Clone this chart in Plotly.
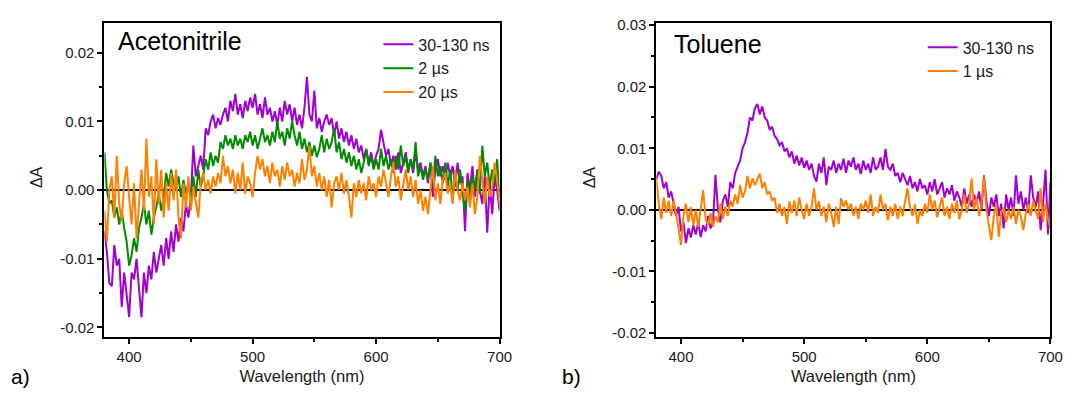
import numpy as np
import plotly.graph_objects as go

# ---------------- data (ΔA in units of 1e-3) ----------------
wavelength = np.arange(380, 701, 2)  # nm grid, 2 nm step

acn_30_130ns = [
    -6, -9, -13.5, -14, -8, -11, -10, -17, -12, -15,
    -18.5, -12, -13, -10, -14, -18.5, -12, -15, -11, -13,
    -9, -12, -10, -8, -11, -7, -10, -6, -9, -5,
    -7.5, -4, -6, -2, -4, -1, 6.5, 2, 3.5, 5,
    3, 9, 8, 10, 11, 9, 10.5, 9.5, 11, 12,
    10, 13, 11.5, 14, 11, 12.5, 10.5, 13, 11.5, 13.5,
    12, 14, 11, 12.5, 10.5, 13.5, 11, 12, 10, 11.5,
    9.5, 12, 10, 13, 11, 12.5, 10, 12, 9.5, 11,
    9, 12, 16.5, 11, 10, 14.5, 9, 10.5, 8.5, 10,
    11, 9.5, 10.5, 8, 10, 7.5, 9, 7, 8.5, 6.5,
    8, 6, 7.5, 5.5, 6.5, 4.5, 6, 4, 5.5, 3.5,
    5, 6, 8.8, 7, 5, 6, 3.5, 5, 3, 5.5,
    2.5, 4, 5.5, 3, 4.5, 2.5, 5.5, 3, 4, 2,
    3.5, 1, 4, -1, 3, 4.5, 2, 3.5, 1.5, 4,
    2, 3.5, 0.5, 4, 1, 2, -6, 2.5, 0, 3.5,
    -1, 3, 0, -2, 2, -6.2, 1, -3.5, 2, 0,
    -3,
]

acn_2us = [
    5.5, 0, -2, -1.5, -4, -2.5, -5, -3, -5.5, -7.5,
    -11, -9.5, -7, -9, -5.5, -4, -2, -5, -3, -6.5,
    -4, -2.5, -0.5, -3, -1, 2.5, 0.5, 3, 1, 0,
    2, -1, 1.5, -0.5, 1, -1.5, 2, -1, 3, 0.5,
    2, 4.5, 3, 5.5, 3.5, 5, 4, 7, 6, 8,
    6.5, 7.5, 6, 8, 6.5, 7.5, 6, 8, 7, 8.5,
    6.5, 8, 6, 7.5, 9, 7, 8, 6.5, 8.5, 7,
    10, 7.5, 8.5, 6.5, 9, 7.5, 10, 8, 6.5, 8.5,
    6, 7.5, 5.5, 7, 5, 6.5, 4.8, 6, 8, 5.5,
    7.5, 6, 7, 9, 5.5, 7, 4.5, 6, 4, 5.5,
    3.5, 5, 3, 4.5, 2.5, 4, 6, 3.5, 5, 3,
    4.5, 3, 6, 3.5, 5, 3, 4.5, 2.5, 5, 3,
    6.5, 3.5, 5, 2.5, 4.5, 3, 7, 2, 3.5, 1.5,
    3, 1.5, 4, 0.5, 5, 2, 3.5, 1, 4, 0.5,
    3, -1, 2, 0, 3, -0.5, -3, 1.5, -1, 2,
    0, 3, -0.5, 6.5, 2, 4, 0.5, 3, 1, 4.5,
    -1,
]

acn_20us = [
    -3, -7.5, 0, 2, -4, 5, -2, -4.5, 1, 3.5,
    -1, -5, 1, -7, -2, 3, -3, 7.5, -1, 2,
    -5, 4.5, -2, 3, -4, 1, -3, 2.5, -1.5, 3,
    -4, -7, 1, -2.5, 2, -3, 0.5, -2, -4, 1,
    2.5, 0, 1.5, -0.5, 2, 0.5, 2.5, 1, 5, 2,
    3.5, 1, 3, -0.5, 2.5, 0, 4, -0.5, 2, 1,
    -1, 2.5, 5, 3, 4.5, 2, 3.5, 1, 4, 2,
    3, 0.5, 3.5, 1.5, 4, 2, 3, 0.5, 2.5, 1,
    4.5, 1.5, 3, 6.5, 2, 3.5, 0.5, 2.5, 0, 2,
    -1, 1.5, -2.5, 1, 2, 0, 2.5, -0.5, 1.5, -1,
    -4, 1, -1, 1.5, -0.5, 1, -1.5, 2, 0, 1,
    -1, 2, 0.5, 3, 1, -1, 2, 4, 0.5, 2,
    -1.5, 1, 3, 0, 2, -1, 1.5, -2, 0, -3,
    -1, -3.5, 0, 3.5, -1.5, 1, -2, 1.5, 2.5, -0.5,
    1, -2, 3, 0, -1.5, 1, -1.5, 0.5, -2.5, 1,
    -3.5, -1, 5, 1, -2, 2, -1, 0.5, 4, 1.5,
    -2,
]

tol_30_130ns = [
    5, 6.2, 5.5, 3.5, 4.5, 2, 3, 1, -1, 0.5,
    -3.5, -2, -5.4, -3, -4.5, -2.5, -4, -2, -4.4, -2.5,
    -3.5, -1, -3, -2, 5.7, 0, -2, 1.5, 2.5, 0.5,
    4.5, 3.5, 6, 7, 8, 10, 11, 12.5, 15, 14.5,
    16.5, 17.2, 15.5, 16.8, 15, 14.5, 13, 13.5, 12, 11.5,
    10.5, 11, 9.5, 10, 8.5, 9.5, 7.5, 8.8, 7.2, 8.5,
    6.8, 8, 6.5, 7.5, 5.5, 4.6, 7.5, 6, 8.5, 4,
    7, 6.5, 8, 6, 7.5, 6.5, 8.3, 6, 8, 7,
    8.5, 6.5, 7.5, 5.8, 8, 6.5, 7.5, 6, 8.5, 6.5,
    7, 8.5, 6.5, 9.9, 7, 6.5, 7.5, 5.5, 6, 4.5,
    6, 5, 4, 5.5, 3.5, 4.5, 3, 5, 3.5, 4,
    2.5, 4.5, 3, 5, 2.5, 3.5, 4.5, 2, 3.5, 2.5,
    4, 1.5, 3, 2, 0.5, 3.5, 1, 2.5, 0.5, 2.5,
    1, 3, 0, 5.6, 1.5, -1, 2, 0.5, 2.5, -1,
    1, -3, 2.5, 0, 2, -1, 5.6, 1, 3, 0,
    2, -0.5, 5.6, 2, 0.4, 3, -3.3, 1, 6.5, -4,
    4.5,
]

tol_1us = [
    5, 1, -1.5, 2, -0.5, 1.5, -1, 1.5, -0.5, -3,
    -5.7, -1, 1, -2, 0.5, -2.5, 0, -2.8, 0.5, 3.2,
    -1.5, -2.5, -0.5, -2.8, -1, -2, 1, -1.5, 0.5, -1,
    1.5, 0.5, 2.5, 1, 4, 2, 3, 5.5, 3.5, 5.1,
    4, 5, 5.9, 3.5, 4.5, 2.5, 3, 1.5, 2, -0.5,
    1, -1, 0.5, -2.3, 1.4, -0.5, 1.5, -1, 2, 0,
    -1.5, 1, -1, 0.5, 3.5, 0, 1.4, -1, 0.5, -2,
    1, -0.5, -2.8, 0.5, -2.3, 1.9, 0.5, 1.5, 0, 1,
    -1, 0.5, -1.5, 1, 0, 1.5, -0.5, 2.5, -1, 0.5,
    -0.5, 2.5, 0, 1, -1.7, 0.5, -1, 1, -1.5, 0.5,
    -1, 1.5, 3.5, 0.5, -1, 0.9, -2.3, 0, -1, 1,
    -0.5, 2.5, 0, 1.5, -1.2, 0.5, 2, -1, 0.5, -1.5,
    1, -0.5, 1.5, -1.5, 0, 2.5, -0.5, 1, 5.1, 0,
    2, -1, 1, 5.4, 0, -2.5, -4.9, -1, 1, -4.4,
    -0.5, 0.4, -2, 0, -1.5, 0.5, -2.3, 0, -1, -3.3,
    -0.5, 1, -1, 1.5, 0, -1.5, 3.5, -2, 1, -1.5,
    -3,
]

for s in (acn_30_130ns, acn_2us, acn_20us, tol_30_130ns, tol_1us):
    assert len(s) == len(wavelength), len(s)

x_tickvals = [400, 500, 600, 700]
x_ticktext = ["400", "500", "600", "700"]
yl_tickvals = [-0.02, -0.01, 0.0, 0.01, 0.02]
yl_ticktext = ["-0.02", "-0.01", "0.00", "0.01", "0.02"]
yr_tickvals = [-0.02, -0.01, 0.0, 0.01, 0.02, 0.03]
yr_ticktext = ["-0.02", "-0.01", "0.00", "0.01", "0.02", "0.03"]

# ---------------- styling ----------------
W, H = 1076, 396
PURPLE = "#A000D0"
GREEN = "#008A00"
ORANGE = "#FF8000"
FONT = "Liberation Sans, Arial, sans-serif"
TXT = "#1a1a1a"


def px(x):
    return x / W


def py(y):
    return 1 - y / H


def mk(vals):
    return np.array(vals, dtype=float) / 1000.0


fig = go.Figure()
fig.add_trace(go.Scatter(x=wavelength, y=mk(acn_30_130ns), mode="lines", name="30-130 ns",
                         line=dict(color=PURPLE, width=2), xaxis="x", yaxis="y", legend="legend"))
fig.add_trace(go.Scatter(x=wavelength, y=mk(acn_2us), mode="lines", name="2 µs",
                         line=dict(color=GREEN, width=2), xaxis="x", yaxis="y", legend="legend"))
fig.add_trace(go.Scatter(x=wavelength, y=mk(acn_20us), mode="lines", name="20 µs",
                         line=dict(color=ORANGE, width=2), xaxis="x", yaxis="y", legend="legend"))
fig.add_trace(go.Scatter(x=wavelength, y=mk(tol_30_130ns), mode="lines", name="30-130 ns",
                         line=dict(color=PURPLE, width=2), xaxis="x2", yaxis="y2", legend="legend2"))
fig.add_trace(go.Scatter(x=wavelength, y=mk(tol_1us), mode="lines", name="1 µs",
                         line=dict(color=ORANGE, width=2), xaxis="x2", yaxis="y2", legend="legend2"))

ydom = [py(340), py(17)]
common_axis = dict(
    showline=True, linewidth=2, linecolor="black", mirror=True,
    ticks="outside", ticklen=5, tickwidth=2, tickcolor="black",
    showgrid=False, tickfont=dict(family=FONT, size=15, color=TXT),
    tickmode="array",
)
xaxis_common = dict(common_axis, range=[380, 700], tickvals=x_tickvals, ticktext=x_ticktext,
                    zeroline=False,
                    minor=dict(ticks="outside", ticklen=3, tickwidth=2, tickcolor="black",
                               tick0=0, dtick=50, showgrid=False),
                    title=dict(text="Wavelength (nm)", font=dict(family=FONT, size=16.5, color=TXT),
                               standoff=6))
yaxis_common = dict(common_axis, zeroline=True, zerolinecolor="black", zerolinewidth=2,
                    minor=dict(ticks="outside", ticklen=3, tickwidth=2, tickcolor="black",
                               tick0=0, dtick=0.005, showgrid=False))

fig.update_layout(
    width=W, height=H,
    margin=dict(l=0, r=0, t=0, b=0),
    paper_bgcolor="white", plot_bgcolor="white",
    font=dict(family=FONT, color=TXT),
    xaxis=dict(xaxis_common, domain=[px(105.7), px(505.7)], anchor="y"),
    yaxis=dict(yaxis_common, domain=ydom, anchor="x", range=[-0.02145, 0.0244],
               tickvals=yl_tickvals, ticktext=yl_ticktext),
    xaxis2=dict(xaxis_common, domain=[px(664.4), px(1063.3)], anchor="y2"),
    yaxis2=dict(yaxis_common, domain=ydom, anchor="x2", range=[-0.0207, 0.0304],
                tickvals=yr_tickvals, ticktext=yr_ticktext),
    legend=dict(x=px(383), y=py(22), xanchor="left", yanchor="top",
                bgcolor="rgba(0,0,0,0)", borderwidth=0,
                font=dict(family=FONT, size=16, color=TXT), tracegroupgap=0),
    legend2=dict(x=px(934), y=py(25), xanchor="left", yanchor="top",
                 bgcolor="rgba(0,0,0,0)", borderwidth=0,
                 font=dict(family=FONT, size=16, color=TXT), tracegroupgap=0),
    annotations=[
        dict(text="Acetonitrile", x=px(117), y=py(36.3), xref="paper", yref="paper",
             xanchor="left", yanchor="middle", showarrow=False,
             font=dict(family=FONT, size=25, color="black")),
        dict(text="Toluene", x=px(680), y=py(39), xref="paper", yref="paper",
             xanchor="left", yanchor="middle", showarrow=False,
             font=dict(family=FONT, size=25, color="black")),
        dict(text="ΔA", x=px(37), y=py(176), xref="paper", yref="paper",
             xanchor="center", yanchor="middle", showarrow=False, textangle=-90,
             font=dict(family=FONT, size=16, color=TXT)),
        dict(text="ΔA", x=px(597), y=py(176), xref="paper", yref="paper",
             xanchor="center", yanchor="middle", showarrow=False, textangle=-90,
             font=dict(family=FONT, size=16, color=TXT)),
        dict(text="a)", x=px(9), y=py(380), xref="paper", yref="paper",
             xanchor="left", yanchor="middle", showarrow=False,
             font=dict(family=FONT, size=21, color="black")),
        dict(text="b)", x=px(567), y=py(380), xref="paper", yref="paper",
             xanchor="left", yanchor="middle", showarrow=False,
             font=dict(family=FONT, size=21, color="black")),
    ],
)

fig.write_html("out.html", config=dict(displayModeBar=False))
